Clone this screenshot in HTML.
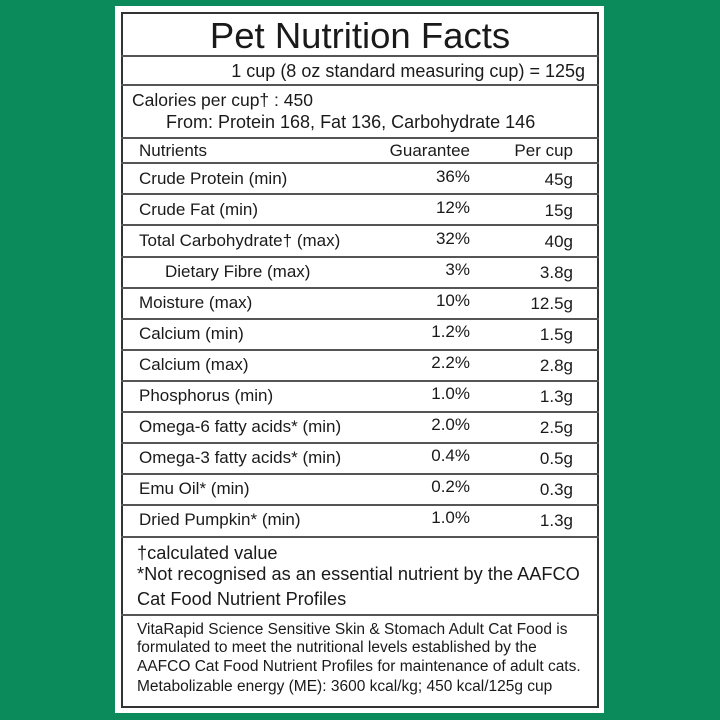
<!DOCTYPE html>
<html><head><meta charset="utf-8"><style>
html,body{margin:0;padding:0}
body{width:720px;height:720px;background:#0b8a5c;position:relative;overflow:hidden;font-family:"Liberation Sans",sans-serif;color:#1a1a1a}
.panel{position:absolute;left:115px;top:6px;width:489px;height:707px;background:#fff}
.box{position:absolute;left:121px;top:12px;width:474px;height:692px;border:2px solid #333}
.h{position:absolute;left:121px;width:478px;background:#555}
.t{position:absolute;white-space:nowrap;line-height:20px;font-size:17px}
.r{text-align:right}
</style></head><body>
<div class="panel"></div>
<div class="box"></div>
<div class="t" style="left:121px;width:478px;text-align:center;top:16px;font-size:36.5px;line-height:40px">Pet Nutrition Facts</div>
<div class="h" style="top:55px;height:1.5px"></div>
<div class="t r" style="left:121px;width:464px;top:61px;font-size:18px">1 cup (8 oz standard measuring cup) = 125g</div>
<div class="h" style="top:84px;height:2px"></div>
<div class="t" style="left:132px;top:90px;font-size:17.5px">Calories per cup† : 450</div>
<div class="t" style="left:166px;top:112px;font-size:18px">From: Protein 168, Fat 136, Carbohydrate 146</div>
<div class="h" style="top:137px;height:2px"></div>
<div class="t" style="left:139px;top:141px">Nutrients</div>
<div class="t r" style="left:350px;width:120px;top:141px">Guarantee</div>
<div class="t r" style="left:480px;width:93px;top:141px">Per cup</div>
<div class="h" style="top:162px;height:1.5px"></div>

<div class="t" style="left:139px;top:169px">Crude Protein (min)</div><div class="t r" style="left:350px;width:120px;top:167px">36%</div><div class="t r" style="left:480px;width:93px;top:170px">45g</div>
<div class="h" style="top:193px;height:1.5px"></div>
<div class="t" style="left:139px;top:200px">Crude Fat (min)</div><div class="t r" style="left:350px;width:120px;top:198px">12%</div><div class="t r" style="left:480px;width:93px;top:201px">15g</div>
<div class="h" style="top:224px;height:1.5px"></div>
<div class="t" style="left:139px;top:231px">Total Carbohydrate† (max)</div><div class="t r" style="left:350px;width:120px;top:229px">32%</div><div class="t r" style="left:480px;width:93px;top:232px">40g</div>
<div class="h" style="top:256px;height:1.5px"></div>
<div class="t" style="left:165px;top:262px">Dietary Fibre (max)</div><div class="t r" style="left:350px;width:120px;top:260px">3%</div><div class="t r" style="left:480px;width:93px;top:263px">3.8g</div>
<div class="h" style="top:287px;height:1.5px"></div>
<div class="t" style="left:139px;top:293px">Moisture (max)</div><div class="t r" style="left:350px;width:120px;top:291px">10%</div><div class="t r" style="left:480px;width:93px;top:294px">12.5g</div>
<div class="h" style="top:318px;height:1.5px"></div>
<div class="t" style="left:139px;top:324px">Calcium (min)</div><div class="t r" style="left:350px;width:120px;top:322px">1.2%</div><div class="t r" style="left:480px;width:93px;top:325px">1.5g</div>
<div class="h" style="top:349px;height:1.5px"></div>
<div class="t" style="left:139px;top:355px">Calcium (max)</div><div class="t r" style="left:350px;width:120px;top:353px">2.2%</div><div class="t r" style="left:480px;width:93px;top:356px">2.8g</div>
<div class="h" style="top:380px;height:1.5px"></div>
<div class="t" style="left:139px;top:386px">Phosphorus (min)</div><div class="t r" style="left:350px;width:120px;top:384px">1.0%</div><div class="t r" style="left:480px;width:93px;top:387px">1.3g</div>
<div class="h" style="top:411px;height:1.5px"></div>
<div class="t" style="left:139px;top:417px">Omega-6 fatty acids* (min)</div><div class="t r" style="left:350px;width:120px;top:415px">2.0%</div><div class="t r" style="left:480px;width:93px;top:418px">2.5g</div>
<div class="h" style="top:442px;height:1.5px"></div>
<div class="t" style="left:139px;top:448px">Omega-3 fatty acids* (min)</div><div class="t r" style="left:350px;width:120px;top:446px">0.4%</div><div class="t r" style="left:480px;width:93px;top:449px">0.5g</div>
<div class="h" style="top:473px;height:1.5px"></div>
<div class="t" style="left:139px;top:479px">Emu Oil* (min)</div><div class="t r" style="left:350px;width:120px;top:477px">0.2%</div><div class="t r" style="left:480px;width:93px;top:480px">0.3g</div>
<div class="h" style="top:504px;height:1.5px"></div>
<div class="t" style="left:139px;top:510px">Dried Pumpkin* (min)</div><div class="t r" style="left:350px;width:120px;top:508px">1.0%</div><div class="t r" style="left:480px;width:93px;top:511px">1.3g</div>
<div class="h" style="top:536px;height:1.5px"></div>

<div class="t" style="left:137px;top:543px;font-size:18.2px">†calculated value</div>
<div class="t" style="left:137px;top:564px;font-size:18.2px">*Not recognised as an essential nutrient by the AAFCO</div>
<div class="t" style="left:137px;top:589px;font-size:18.2px">Cat Food Nutrient Profiles</div>
<div class="h" style="top:614px;height:2px"></div>
<div class="t" style="left:137px;top:620px;font-size:15.5px">VitaRapid Science Sensitive Skin &amp; Stomach Adult Cat Food is</div>
<div class="t" style="left:137px;top:638px;font-size:15.5px">formulated to meet the nutritional levels established by the</div>
<div class="t" style="left:137px;top:657px;font-size:15.5px">AAFCO Cat Food Nutrient Profiles for maintenance of adult cats.</div>
<div class="t" style="left:137px;top:677px;font-size:15.5px">Metabolizable energy (ME): 3600 kcal/kg; 450 kcal/125g cup</div>
</body></html>
